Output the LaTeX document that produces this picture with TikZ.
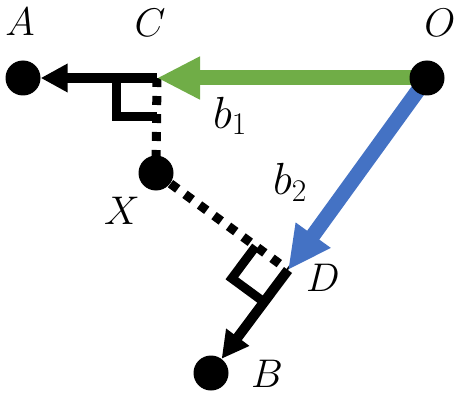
\RequirePackage{fix-cm}
\documentclass[tikz,border=0pt]{standalone}
\usetikzlibrary{arrows.meta,calc}
\definecolor{mygreen}{HTML}{70AD47}
\definecolor{myblue}{HTML}{4472C4}
\pgfdeclarelayer{bg}
\pgfsetlayers{bg,main}
\begin{document}
\begin{tikzpicture}[x=1pt,y=-1pt,
 dot/.style={circle,fill=black,inner sep=0pt,minimum size=35pt},
 lbl/.style={font=\fontsize{40}{40}\selectfont,inner sep=0pt},
 blbl/.style={font=\fontsize{45}{45}\selectfont,inner sep=0pt},
 dotline/.style={line width=9pt,dash pattern=on 9pt off 9pt},
 blk/.style={line width=10pt,-{Triangle[length=27pt,width=27pt]}},
 big/.style={line width=15pt,-{Triangle[length=43pt,width=40pt]}},
 rmark/.style={line width=9pt}
]
\useasboundingbox (0,0) rectangle (465,406);
\node[dot] (A) at (23,78) {};
\node[dot] (O) at (427,78) {};
\node[dot] (X) at (156,173) {};
\node[dot] (B) at (211,373) {};
\coordinate (C) at (157,78);
\coordinate (D) at (288,270);
\coordinate (p1) at ($(D)!40pt!(X)$);
\coordinate (p2) at ($(D)!40pt!(B)$);
\coordinate (pc) at ($(p1)+(p2)-(D)$);
\begin{pgfonlayer}{bg}
\draw[dotline] (C) -- (X.center);
\draw[dotline] (X.center) -- (D);
\draw[rmark] ($(C)+(-41,0)$) -- ($(C)+(-41,39)$) -- ($(C)+(0,39)$);
\draw[rmark] (p1) -- (pc) -- (p2);
\draw[blk] (C) -- (A);
\draw[blk] (D) -- (B);
\draw[big,mygreen] (O.center) -- (C);
\draw[big,myblue] (O.center) -- (D);
\end{pgfonlayer}
\node[lbl] (lA) at (20,22) {$A$};
\node[lbl] (lC) at (150,23) {$C$};
\node[lbl] (lO) at (440,23) {$O$};
\node[lbl] (lX) at (122,211) {$X$};
\node[lbl] (lD) at (323,278) {$D$};
\node[lbl] (lB) at (267,374) {$B$};
\node[blbl] (lb1) at (230,116) {$b_{1}$};
\node[blbl] (lb2) at (290,182) {$b_{2}$};
\end{tikzpicture}
\end{document}
